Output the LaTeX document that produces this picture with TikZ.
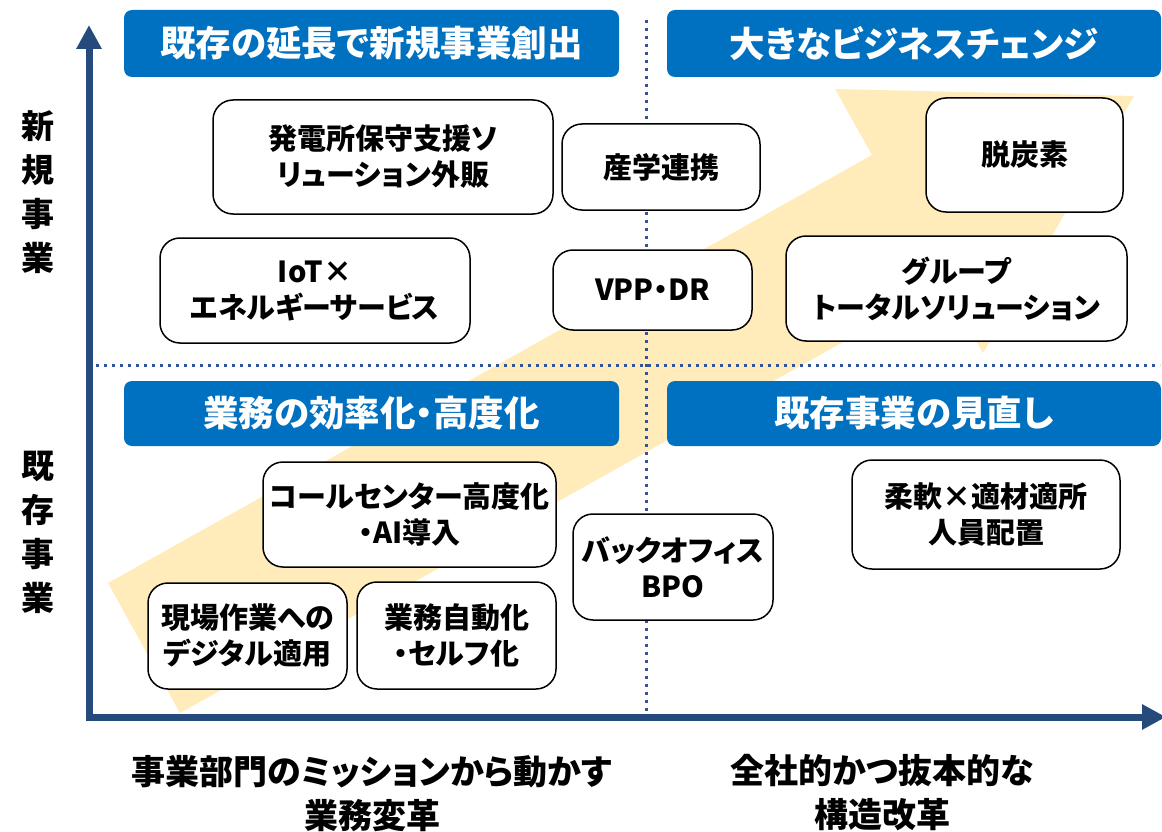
\documentclass[tikz,border=0pt]{standalone}
\usepackage{fontspec}
\setmainfont{Noto Sans CJK JP}[RawFeature=+palt]
\usetikzlibrary{arrows.meta}
\definecolor{hblue}{RGB}{0,112,192}
\definecolor{axisblue}{RGB}{37,74,124}
\definecolor{dotblue}{RGB}{47,85,151}
\definecolor{lightyellow}{RGB}{255,236,186}
\tikzset{
  box/.style={draw=black, line width=1.5pt, rounded corners=20pt, fill=white, align=center, inner sep=0pt,
    font=\fontsize{29}{36}\selectfont\bfseries},
  header/.style={fill=hblue, rounded corners=8pt, text=white, inner sep=0pt, align=center,
    font=\fontsize{35.5}{40}\selectfont\bfseries},
  axis/.style={draw=axisblue, line width=7pt, -{Triangle[width=24pt,length=24pt]}},
  grid line/.style={draw=dotblue, line width=3pt, dash pattern=on 3pt off 5pt},
  sidelabel/.style={align=center, inner sep=0pt, font=\fontsize{33}{44}\selectfont\bfseries},
  bottomlabel/.style={align=center, inner sep=0pt, font=\fontsize{34}{44}\selectfont\bfseries}
}
\begin{document}
\begin{tikzpicture}[x=1pt,y=-1pt]
\useasboundingbox (0,0) rectangle (1162,832);
% big yellow arrow
\fill[lightyellow] (108,583) -- (872,155) -- (835,89) -- (1134,96) -- (983,353) -- (945,285) -- (180,713) -- cycle;
% dotted separators
\coordinate (vtop) at (646,20);
\coordinate (vbot) at (646,712);
\coordinate (hl) at (96,365);
\coordinate (hr) at (1160,365);
\draw[grid line] (vtop) -- (vbot);
\draw[grid line] (hl) -- (hr);
% axes
\coordinate (O) at (89,717);
\coordinate (ytip) at (89,25);
\coordinate (xtip) at (1166,717);
\coordinate (O2) at (86,717);
\draw[axis] (O) -- (ytip);
\draw[axis] (O2) -- (xtip);
% headers
\node[header, minimum width=495pt, minimum height=67pt] (h1) at (371.5,43.5) {既存の延長で新規事業創出};
\node[header, minimum width=494pt, minimum height=67pt] (h2) at (914,43.5) {大きなビジネスチェンジ};
\node[header, minimum width=495pt, minimum height=65pt] (h3) at (371.5,413.5) {業務の効率化・高度化};
\node[header, minimum width=494pt, minimum height=65pt] (h4) at (914,413.5) {既存事業の見直し};
% boxes
\node[box, minimum width=340pt, minimum height=114pt] (b1) at (383,157) {発電所保守支援ソ\\リューション外販};
\node[box, minimum width=310pt, minimum height=105pt] (b2) at (315,290.5) {IoT×\\エネルギーサービス};
\node[box, minimum width=198pt, minimum height=86pt] (b3) at (661,167) {産学連携};
\node[box, minimum width=199pt, minimum height=80pt] (b4) at (652.5,290) {VPP・DR};
\node[box, minimum width=197pt, minimum height=114pt] (b5) at (1024.5,155) {脱炭素};
\node[box, minimum width=341pt, minimum height=105pt] (b6) at (956.5,288.5) {グループ\\トータルソリューション};
\node[box, minimum width=293pt, minimum height=105pt] (b7) at (409.5,514.5) {コールセンター高度化\\・AI導入};
\node[box, minimum width=200pt, minimum height=106pt] (b8) at (673,567) {バックオフィス\\BPO};
\node[box, minimum width=268pt, minimum height=109pt] (b9) at (986,514.5) {柔軟×適材適所\\人員配置};
\node[box, minimum width=199pt, minimum height=106pt] (b10) at (247.5,636) {現場作業への\\デジタル適用};
\node[box, minimum width=199pt, minimum height=107pt] (b11) at (456.5,635.5) {業務自動化\\・セルフ化};
% side labels
\node[sidelabel] (l1) at (38,192) {新\\規\\事\\業};
\node[sidelabel] (l2) at (38,532.5) {既\\存\\事\\業};
% bottom labels
\node[bottomlabel] (x1) at (372,794) {事業部門のミッションから動かす\\業務変革};
\node[bottomlabel] (x2) at (882,793) {全社的かつ抜本的な\\構造改革};
\end{tikzpicture}
\end{document}
